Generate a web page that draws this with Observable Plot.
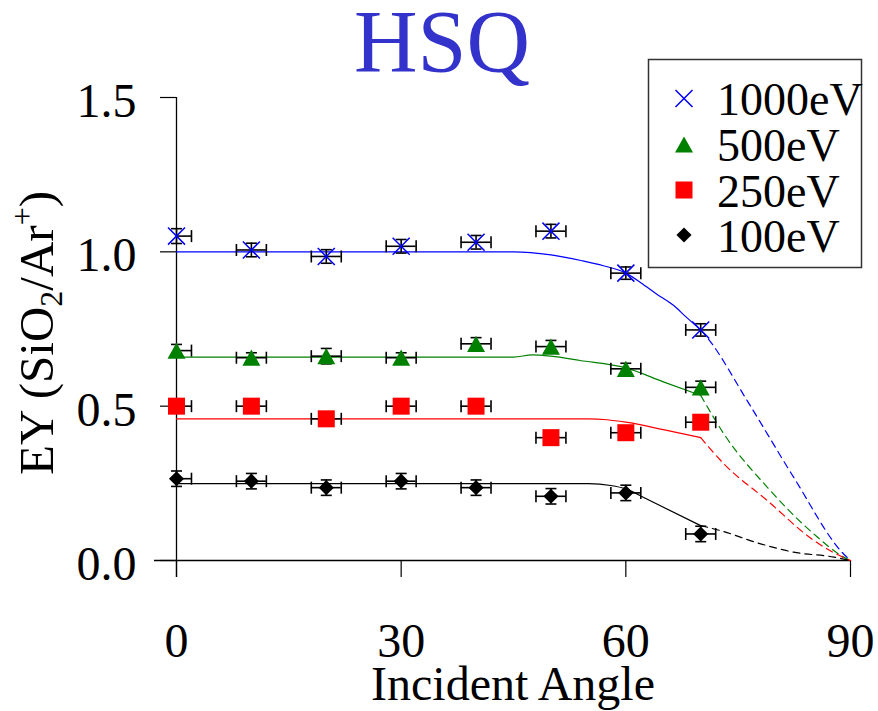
<!DOCTYPE html>
<html>
<head>
<meta charset="utf-8">
<script src="https://cdn.jsdelivr.net/npm/d3@7"></script>
<script src="https://cdn.jsdelivr.net/npm/@observablehq/plot@0.6"></script>
<style>
  html, body { margin: 0; padding: 0; background: #fff; }
  #chart { width: 878px; height: 711px; }
</style>
</head>
<body>
<div id="chart"></div>
<script>
// ---------- data ----------
const title = "HSQ";
const series = ["1000eV", "500eV", "250eV", "100eV"];
const colors = ["#0000ff", "#008000", "#ff0000", "#000000"];
const angles = [0, 10, 20, 30, 40, 50, 60, 70];
const xErr = [2, 2, 2, 2, 2, 2, 2, 2];

const yield1000 = [1.051, 1.006, 0.985, 1.018, 1.031, 1.067, 0.931, 0.747];
const yield500  = [0.680, 0.657, 0.662, 0.657, 0.702, 0.693, 0.621, 0.561];
const yield250  = [0.500, 0.500, 0.459, 0.500, 0.500, 0.398, 0.414, 0.448];
const yield100  = [0.265, 0.257, 0.236, 0.257, 0.236, 0.208, 0.219, 0.086];

const yErr1000 = [0.024, 0.022, 0.022, 0.022, 0.022, 0.022, 0.020, 0.020];
const yErr500  = [0.020, 0.016, 0.025, 0.016, 0.020, 0.020, 0.018, 0.020];
const yErr250  = [0.020, 0.020, 0.020, 0.020, 0.020, 0.020, 0.020, 0.020];
const yErr100  = [0.025, 0.025, 0.025, 0.025, 0.025, 0.025, 0.025, 0.025];

// fitted curves (solid, 0–70°)
const fit1000X = [0, 45, 50, 54, 57, 60, 62, 64, 66.4, 68, 70];
const fit1000Y = [1.0, 1.0, 0.99, 0.972, 0.955, 0.931, 0.90, 0.865, 0.826, 0.79, 0.747];
const fit500X  = [0, 45, 47.5, 50, 53.9, 60, 65.1, 70];
const fit500Y  = [0.659, 0.659, 0.666, 0.662, 0.648, 0.624, 0.578, 0.535];
const fit250X  = [0, 55, 57.5, 60, 65, 70];
const fit250Y  = [0.459, 0.459, 0.456, 0.448, 0.424, 0.398];
const fit100X  = [0, 55, 58, 60, 62.8, 70];
const fit100Y  = [0.249, 0.249, 0.243, 0.232, 0.199, 0.113];

// extrapolated curves (dashed, 70–90°)
const ext1000X = [70, 70.85, 76.2, 82.4, 89.05, 90];
const ext1000Y = [0.747, 0.723, 0.518, 0.27, 0.022, 0];
const ext500X  = [70, 73.1, 78.9, 85.1, 89.1, 90];
const ext500Y  = [0.535, 0.41, 0.237, 0.086, 0.011, 0];
const ext250X  = [70, 73.1, 78.9, 85.1, 89.5, 90];
const ext250Y  = [0.398, 0.313, 0.194, 0.065, 0.005, 0];
const ext100X  = [70, 72.6, 78, 82.4, 87.8, 90];
const ext100Y  = [0.113, 0.097, 0.054, 0.027, 0.011, 0];

const xTicks = [0, 30, 60, 90];
const yTicks = [0.0, 0.5, 1.0, 1.5];
const xLabel = "Incident Angle";

// ---------- tables built from the arrays ----------
const yields = [yield1000, yield500, yield250, yield100];
const yErrs = [yErr1000, yErr500, yErr250, yErr100];
const fitsX = [fit1000X, fit500X, fit250X, fit100X];
const fitsY = [fit1000Y, fit500Y, fit250Y, fit100Y];
const extsX = [ext1000X, ext500X, ext250X, ext100X];
const extsY = [ext1000Y, ext500Y, ext250Y, ext100Y];

const points = [];
series.forEach((s, si) => angles.forEach((a, i) =>
  points.push({series: s, x: a, y: yields[si][i], ex: xErr[i], ey: yErrs[si][i]})));

const toRows = (xs, ys) => xs.map((x, i) => ({x, y: ys[i]}));

// ---------- symbols ----------
const vCap = {draw(ctx, size) { const r = Math.sqrt(size / Math.PI); ctx.moveTo(0, -r); ctx.lineTo(0, r); }};
const hCap = {draw(ctx, size) { const r = Math.sqrt(size / Math.PI); ctx.moveTo(-r, 0); ctx.lineTo(r, 0); }};
const triUp = {draw(ctx, size) {
  const r = Math.sqrt(size / Math.PI);
  ctx.moveTo(0, -0.9 * r); ctx.lineTo(r, 0.9 * r); ctx.lineTo(-r, 0.9 * r); ctx.closePath();
}};
const markerStyles = [
  {symbol: "times", r: 7.8, fill: "none", stroke: colors[0], strokeWidth: 1.5},
  {symbol: triUp, r: 9, fill: colors[1], stroke: "none"},
  {symbol: "square", r: 9.6, fill: colors[2], stroke: "none"},
  {symbol: "diamond2", r: 6.8, fill: colors[3], stroke: "none"}
];

// ---------- marks ----------
const marks = [];
// axis lines
marks.push(Plot.ruleY([0], {stroke: "#000", strokeWidth: 1.3, insetLeft: -22}));
marks.push(Plot.ruleX([0], {stroke: "#000", strokeWidth: 1.3, insetBottom: -17}));
// ticks and tick labels
marks.push(Plot.axisX(xTicks, {tickSize: 17, fill: "none", stroke: "#000", strokeWidth: 1.2, label: null}));
marks.push(Plot.axisX(xTicks, {tickSize: 0, tickPadding: 62, fontSize: 48, fill: "#000", label: null, tickFormat: d => String(d)}));
marks.push(Plot.axisY(yTicks, {tickSize: 16, fill: "none", stroke: "#000", strokeWidth: 1.2, label: null}));
marks.push(Plot.axisY(yTicks, {tickSize: 0, tickPadding: 40, dy: 4, fontSize: 48, fill: "#000", label: null, tickFormat: d3.format(".1f")}));

// fitted curves
series.forEach((s, si) => {
  marks.push(Plot.line(toRows(fitsX[si], fitsY[si]), {x: "x", y: "y", stroke: colors[si], strokeWidth: 1.2, curve: "monotone-x"}));
  marks.push(Plot.line(toRows(extsX[si], extsY[si]), {x: "x", y: "y", stroke: colors[si], strokeWidth: 1.2, strokeDasharray: "7,5", curve: "monotone-x"}));
});

// error bars
const eb = {stroke: "#000", strokeWidth: 1.6};
marks.push(Plot.ruleY(points, {x1: d => Math.max(0, d.x - d.ex), x2: d => d.x + d.ex, y: "y", ...eb}));
marks.push(Plot.ruleX(points, {x: "x", y1: d => d.y - d.ey, y2: d => d.y + d.ey, ...eb}));
marks.push(Plot.dot(points.filter(d => d.x - d.ex >= 0), {x: d => d.x - d.ex, y: "y", symbol: vCap, r: 6, fill: "none", ...eb}));
marks.push(Plot.dot(points, {x: d => d.x + d.ex, y: "y", symbol: vCap, r: 6, fill: "none", ...eb}));
marks.push(Plot.dot(points, {x: "x", y: d => d.y - d.ey, symbol: hCap, r: 5.5, fill: "none", ...eb}));
marks.push(Plot.dot(points, {x: "x", y: d => d.y + d.ey, symbol: hCap, r: 5.5, fill: "none", ...eb}));

// markers
series.forEach((s, si) => {
  marks.push(Plot.dot(points.filter(d => d.series === s), {x: "x", y: "y", ...markerStyles[si]}));
});

const font = "'Liberation Serif', 'Times New Roman', serif";

const plot = Plot.plot({
  width: 878,
  height: 711,
  marginLeft: 176,
  marginRight: 28,
  marginTop: 97,
  marginBottom: 151,
  x: {domain: [0, 90]},
  y: {domain: [0, 1.5]},
  style: {fontFamily: font, background: "#fff", color: "#000", overflow: "visible"},
  marks
});
document.getElementById("chart").appendChild(plot);

// ---------- title, axis titles, legend ----------
const svg = d3.select(plot);

svg.append("text")
  .attr("x", 442).attr("y", 71)
  .attr("text-anchor", "middle")
  .style("font-family", font).style("font-size", "88px")
  .attr("fill", "#3333cc")
  .text(title);

svg.append("text")
  .attr("x", 513).attr("y", 700)
  .attr("text-anchor", "middle")
  .style("font-family", font).style("font-size", "48px")
  .attr("fill", "#000")
  .text(xLabel);

const yl = svg.append("text")
  .attr("transform", "translate(53,333) rotate(-90)")
  .attr("text-anchor", "middle")
  .style("font-family", font).style("font-size", "49px")
  .attr("fill", "#000");
yl.append("tspan").text("EY (SiO");
yl.append("tspan").style("font-size", "32px").attr("dy", 9).text("2");
yl.append("tspan").attr("dy", -9).text("/Ar");
yl.append("tspan").style("font-size", "32px").attr("dy", -20).text("+");
yl.append("tspan").attr("dy", 20).text(")");

const lg = svg.append("g");
lg.append("rect")
  .attr("x", 648.5).attr("y", 59.5).attr("width", 213).attr("height", 208)
  .attr("fill", "#fff").attr("stroke", "#333").attr("stroke-width", 1.5);
const baselines = [115, 161, 206.5, 251.5];
series.forEach((s, si) => {
  const m = markerStyles[si];
  const type = typeof m.symbol === "string"
    ? {times: d3.symbolTimes, square: d3.symbolSquare, diamond2: d3.symbolDiamond2}[m.symbol]
    : m.symbol;
  lg.append("path")
    .attr("transform", `translate(684,${baselines[si] - 16.5})`)
    .attr("d", d3.symbol(type, m.r * m.r * Math.PI)())
    .attr("fill", m.fill).attr("stroke", m.stroke)
    .attr("stroke-width", m.strokeWidth || 0);
  lg.append("text")
    .attr("x", 717).attr("y", baselines[si])
    .attr("text-anchor", "start")
    .style("font-family", font).style("font-size", "46px")
    .attr("fill", "#000")
    .text(s);
});
</script>
</body>
</html>
